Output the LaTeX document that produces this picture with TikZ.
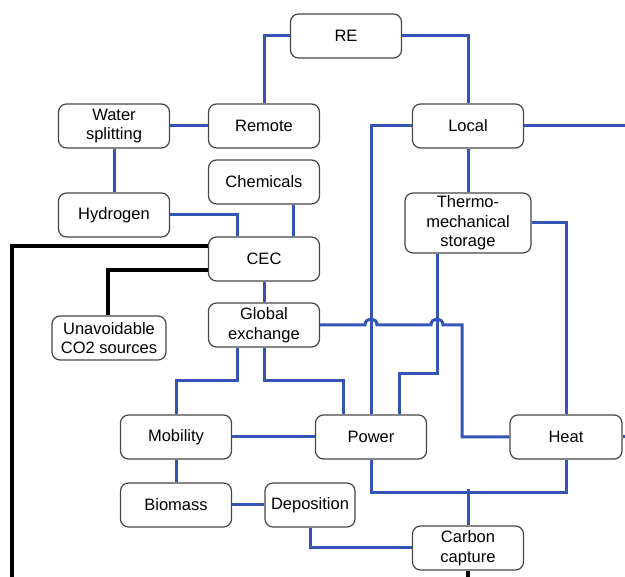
\documentclass[tikz,border=0pt]{standalone}
\usepackage{fontspec}
\setmainfont{Liberation Sans}
\usetikzlibrary{calc}
\definecolor{linkblue}{RGB}{52,84,182}
\definecolor{boxgray}{RGB}{70,70,70}
\tikzset{
  box/.style={draw=boxgray, line width=1.2pt, rounded corners=8pt, fill=white,
    minimum width=111pt, minimum height=44pt, inner sep=0pt, align=center,
    font=\fontsize{16.5}{19.5}\selectfont},
  blink/.style={draw=linkblue, line width=3pt},
  klink/.style={draw=black, line width=3.4pt},
}
\begin{document}
\begin{tikzpicture}[x=1pt,y=-1pt]
\useasboundingbox (0,0) rectangle (625,577);
% nodes
\node[box] (RE) at (346,36) {RE};
\node[box] (Water) at (114,126) {Water\\splitting};
\node[box] (Remote) at (264,126) {Remote};
\node[box] (Local) at (468,126) {Local};
\node[box] (Chem) at (264,182) {Chemicals};
\node[box, minimum width=126pt, minimum height=60pt] (Thermo) at (468,223) {Thermo-\\mechanical\\storage};
\node[box] (Hydrogen) at (114,215) {Hydrogen};
\node[box] (CEC) at (264,259) {CEC};
\node[box, minimum width=114pt] (Unav) at (109,338) {Unavoidable\\CO2 sources};
\node[box] (GE) at (264,325) {Global\\exchange};
\node[box] (Mobility) at (176,437) {Mobility};
\node[box] (Power) at (371,437) {Power};
\node[box, minimum width=112pt] (Heat) at (566,437) {Heat};
\node[box] (Biomass) at (176,505) {Biomass};
\node[box, minimum width=90pt] (Depo) at (310,505) {Deposition};
\node[box] (CC) at (468,548) {Carbon\\capture};
% free ends
\coordinate (rtop) at (625,126);
\coordinate (rheat) at (625,437);
\coordinate (lbot) at (12,577);
\coordinate (ccbot) at (468,577);
% blue links
\draw[blink] (RE.west) -| (Remote.north);
\draw[blink] (RE.east) -| (Local.north);
\draw[blink] (Remote.west) -- (Water.east);
\draw[blink] (Water.south) -- (Hydrogen.north);
\draw[blink] (Local.east) -- (rtop);
\draw[blink] (Local.south) -- (Thermo.north);
\draw[blink] (Local.west) -| (Power.north);
\draw[blink] (Hydrogen.east) -| ($(CEC.north)+(-27,0)$);
\draw[blink] ($(Chem.south)+(29,0)$) -- ($(CEC.north)+(29,0)$);
\draw[blink] (CEC.south) -- (GE.north);
\draw[blink] (GE.east) -- (365,325) .. controls (365,317) and (377,317) .. (377,325)
  -- (431,325) .. controls (431,317) and (443,317) .. (443,325)
  -- (462,325) |- (Heat.west);
\draw[blink] ($(GE.south)+(-27,0)$) -- ++(0,33) -| (Mobility.north);
\draw[blink] (GE.south) -- ++(0,33) -| ($(Power.north)+(-28,0)$);
\draw[blink] ($(Thermo.south)+(-31,0)$) -- ++(0,120) -| ($(Power.north)+(28,0)$);
\draw[blink] (Thermo.east) -| (Heat.north);
\draw[blink] (Mobility.east) -- (Power.west);
\draw[blink] (Mobility.south) -- (Biomass.north);
\draw[blink] (Biomass.east) -- (Depo.west);
\draw[blink] (Depo.south) |- (CC.west);
\draw[blink] (Power.south) -- ++(0,33) -| (Heat.south);
\draw[blink] (CC.north) -- ++(0,-36);
\draw[blink] (Heat.east) -- (rheat);
% black links
\draw[klink] ($(CEC.west)+(0,-13)$) -| (lbot);
\draw[klink] ($(CEC.west)+(0,11)$) -| ($(Unav.north)+(-1,0)$);
\draw[klink] (CC.south) -- (ccbot);
\end{tikzpicture}
\end{document}
